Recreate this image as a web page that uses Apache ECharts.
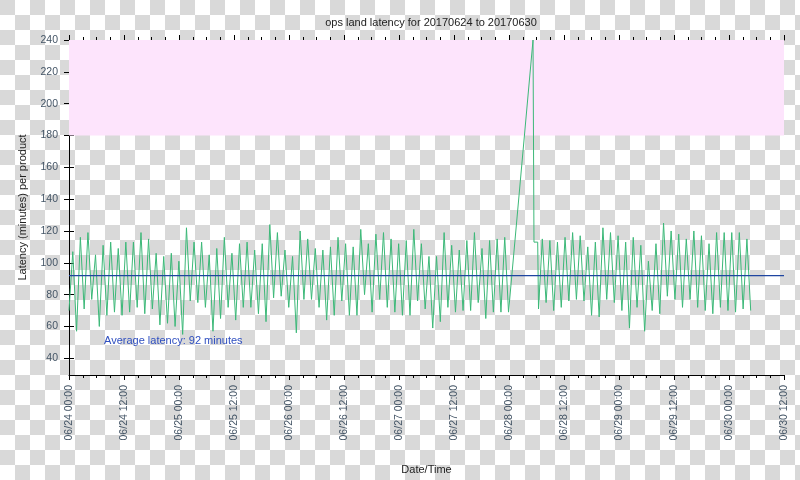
<!DOCTYPE html>
<html>
<head>
<meta charset="utf-8">
<script src="https://cdn.jsdelivr.net/npm/echarts@6/dist/echarts.min.js"></script>
<style>
html,body{margin:0;padding:0;width:800px;height:480px;overflow:hidden;}
body{background-color:#fff;background-image:conic-gradient(#fff 0 25%, #d9d9d9 0 50%, #fff 0 75%, #d9d9d9 0);background-size:30px 30px;background-position:0 0;}
#chart{width:800px;height:480px;}
</style>
</head>
<body>
<div id="chart"></div>
<script>
// ---- data ----
const chartTitle = 'ops land latency for 20170624 to 20170630';
const xTickLabels = ['06/24 00:00','06/24 12:00','06/25 00:00','06/25 12:00','06/26 00:00','06/26 12:00',
  '06/27 00:00','06/27 12:00','06/28 00:00','06/28 12:00','06/29 00:00','06/29 12:00','06/30 00:00','06/30 12:00'];
const yTickValues = [40, 60, 80, 100, 120, 140, 160, 180, 200, 220, 240];
const avgLatency = 92;
const thresholdBand = [180, 240];

// hours since 06/24 00:00 and sample spacing (half of one ~99 min cycle)
const seg1StartHour = 0;
const seg2StartHour = 102.44;
const sampleStepHours = 0.8267;

// first run: 06/24 00:00 .. 06/27 ~24:00 (alternating trough / peak)
const seg1Latency = [70,
  107,57, 116,71, 119,77, 105,60, 111,67, 113,69, 109,67, 113,69, 113,72, 119,68,
  115,71, 106,61, 104,62, 106,60, 101,55, 122,76, 113,75, 113,72, 105,57, 109,65,
  116,72, 106,64, 112,72, 113,72, 108,68, 112,63, 124,78, 119,79, 108,72, 104,56,
  120,77, 115,77, 109,72, 108,64, 110,67, 116,76, 112,67, 110,67, 121,80, 112,69,
  118,77, 119,72, 115,69, 112,67, 114,67, 121,76, 112,71, 104,59, 104,63, 119,72,
  111,69, 108,70, 114,70, 119,75, 109,65, 114,69, 115,69, 116,69];

// outage spike on 06/28 (hour offset, latency)
const spikeHours = [101.24, 101.45, 102.26];
const spikeLatency = [240, 113, 113];

// second run: 06/28 ~06:26 .. 06/30 ~05:30
const seg2Latency = [71,
  115,75, 114,70, 113,72, 116,76, 119,77, 117,76, 110,67, 113,66, 122,77, 119,75,
  117,70, 113,59, 116,72, 111,57, 101,70, 112,68, 125,79, 120,77, 118,72, 115,77,
  120,72, 117,70, 112,68, 119,72, 119,70, 119,69, 119,71, 115,70];

// ---- build series data ----
const lineData = [];
seg1Latency.forEach((v, i) => lineData.push([seg1StartHour + i * sampleStepHours, v]));
spikeHours.forEach((h, i) => lineData.push([h, spikeLatency[i]]));
seg2Latency.forEach((v, i) => lineData.push([seg2StartHour + i * sampleStepHours, v]));

const labelColor = '#445566';
const font = 'Liberation Sans, Arial, sans-serif';
const xMax = (xTickLabels.length - 1) * 12;
const avgData = [[0, avgLatency], [xMax, avgLatency]];

const chart = echarts.init(document.getElementById('chart'), null, {renderer: 'canvas'});
chart.setOption({
  backgroundColor: 'transparent',
  animation: false,
  textStyle: {fontFamily: font},
  title: {
    text: chartTitle,
    left: 426, top: 12, textAlign: 'center',
    textStyle: {fontSize: 11, fontWeight: 'normal', color: '#222', fontFamily: font}
  },
  grid: {left: 69, right: 16, top: 40, bottom: 105, containLabel: false},
  xAxis: [{
    type: 'value', min: 0, max: xMax, interval: 12,
    name: 'Date/Time', nameLocation: 'middle', nameGap: 89,
    nameTextStyle: {fontSize: 11, color: '#222', fontFamily: font},
    axisLine: {show: true, lineStyle: {color: '#000', width: 1}},
    axisTick: {show: true, inside: false, length: 5, lineStyle: {color: '#000'}},
    minorTick: {show: true, splitNumber: 4, length: 3, lineStyle: {color: '#000'}},
    splitLine: {show: false}, minorSplitLine: {show: false},
    axisLabel: {
      rotate: 90, margin: 10, fontSize: 10.5, color: labelColor, fontFamily: font,
      showMinLabel: true, showMaxLabel: true,
      formatter: v => xTickLabels[Math.round(v / 12)] || ''
    }
  }, {
    type: 'value', position: 'top', min: 0, max: xMax, interval: 12,
    axisLine: {show: true, lineStyle: {color: '#000', width: 1}},
    axisTick: {show: true, inside: false, length: 5, lineStyle: {color: '#000'}},
    minorTick: {show: true, splitNumber: 4, length: 3, lineStyle: {color: '#000'}},
    splitLine: {show: false}, minorSplitLine: {show: false},
    axisLabel: {show: false}
  }],
  yAxis: [{
    type: 'value', min: 29.5, max: 240,
    name: 'Latency (minutes) per product', nameLocation: 'middle', nameGap: 41,
    nameTextStyle: {fontSize: 11, color: '#222', fontFamily: font},
    axisLine: {show: true, lineStyle: {color: '#000', width: 1}},
    axisTick: {show: true, inside: true, length: 5, customValues: yTickValues, lineStyle: {color: '#000'}},
    axisLabel: {customValues: yTickValues, fontSize: 10.5, color: labelColor, margin: 11, fontFamily: font},
    splitLine: {show: false}
  }, {
    type: 'value', position: 'right', min: 29.5, max: 240,
    axisLine: {show: true, lineStyle: {color: '#000', width: 1}},
    axisTick: {show: true, inside: true, length: 5, customValues: yTickValues, lineStyle: {color: '#000'}},
    axisLabel: {show: false},
    splitLine: {show: false}
  }],
  graphic: [{
    type: 'text', left: 104, top: 335, silent: true,
    style: {text: 'Average latency: ' + avgLatency + ' minutes', fill: '#2f4fc0', font: '11px ' + font}
  }],
  series: [{
    type: 'line',
    data: lineData,
    showSymbol: false,
    symbol: 'none',
    lineStyle: {color: '#3cb878', width: 1},
    itemStyle: {color: '#3cb878'},
    z: 3,
    markArea: {
      silent: true,
      itemStyle: {color: '#fde4fc', opacity: 1},
      data: [[{yAxis: thresholdBand[0]}, {yAxis: thresholdBand[1]}]]
    }
  }, {
    type: 'line',
    data: avgData,
    showSymbol: false,
    symbol: 'none',
    silent: true,
    lineStyle: {color: '#1f45a0', width: 1.2},
    itemStyle: {color: '#1f45a0'},
    z: 4
  }]
});
</script>
</body>
</html>
